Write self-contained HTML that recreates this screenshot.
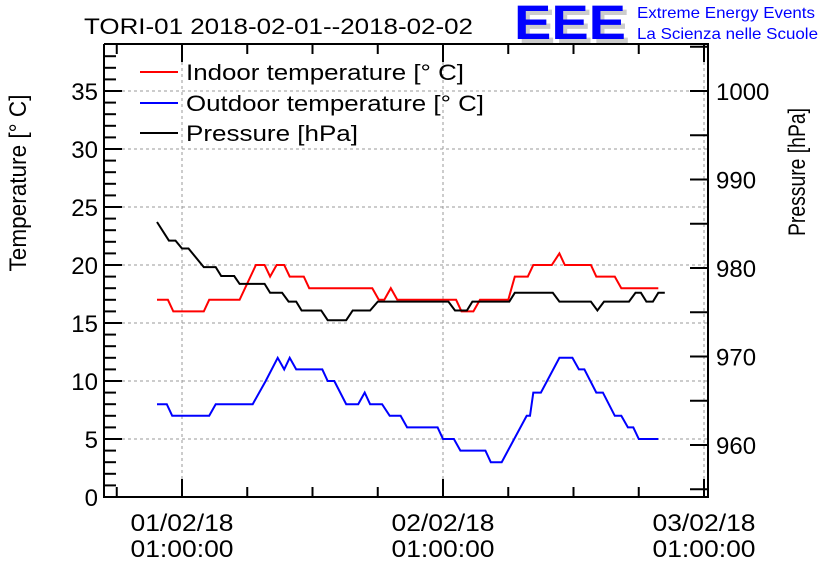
<!DOCTYPE html>
<html><head><meta charset="utf-8"><style>
html,body{margin:0;padding:0;background:#fff;}
svg{display:block;font-family:"Liberation Sans",sans-serif;}
</style></head><body>
<svg id="chart" width="836" height="572" viewBox="0 0 836 572">
<text x="84" y="34" font-size="22" textLength="389" lengthAdjust="spacingAndGlyphs">TORI-01 2018-02-01--2018-02-02</text>
<g>
<text x="518" y="43" font-size="48" font-weight="bold" fill="#ccc" textLength="112" lengthAdjust="spacingAndGlyphs">EEE</text>
<text x="514" y="39" font-size="48" font-weight="bold" fill="#00f" textLength="112" lengthAdjust="spacingAndGlyphs">EEE</text>
<text x="637" y="18" font-size="16" fill="#00f" textLength="178" lengthAdjust="spacingAndGlyphs">Extreme Energy Events</text>
<text x="637" y="39" font-size="16" fill="#00f" textLength="181" lengthAdjust="spacingAndGlyphs">La Scienza nelle Scuole</text>
</g>
<g id="grid"></g>
<g id="series"></g>
<g id="axes"></g>
<text transform="translate(26,183) rotate(-90)" text-anchor="middle" font-size="24" textLength="177" lengthAdjust="spacingAndGlyphs">Temperature [° C]</text>
<text transform="translate(805,172) rotate(-90)" text-anchor="middle" font-size="24" textLength="128" lengthAdjust="spacingAndGlyphs">Pressure [hPa]</text>
<g>
<g><line x1="140" y1="72" x2="178" y2="72" stroke="#f00" stroke-width="2"/><text x="186" y="80" font-size="22" textLength="278" lengthAdjust="spacingAndGlyphs">Indoor temperature [° C]</text></g>
<g><line x1="140" y1="103" x2="178" y2="103" stroke="#00f" stroke-width="2"/><text x="186" y="111" font-size="22" textLength="298" lengthAdjust="spacingAndGlyphs">Outdoor temperature [° C]</text></g>
<g><line x1="140" y1="133" x2="178" y2="133" stroke="#000" stroke-width="2"/><text x="186" y="141" font-size="22" textLength="172" lengthAdjust="spacingAndGlyphs">Pressure [hPa]</text></g>
</g>
</svg>
<script>
const indoorHours=[-2.3,-1.3,-0.8,2.0,2.5,5.3,6.8,7.6,8.1,8.7,9.4,9.9,11.2,11.7,17.5,18.1,18.6,19.2,19.8,25.2,25.7,26.8,27.4,30.0,30.6,31.8,32.3,34.0,34.7,35.2,37.6,38.1,39.8,40.4,43.8];
const indoorValues=[17,17,16,16,17,17,20,20,19,20,20,19,19,18,18,17,17,18,17,17,16,16,17,17,19,19,20,20,21,20,20,19,19,18,18];
const outdoorHours=[-2.3,-1.4,-0.9,2.5,3.1,6.5,7.7,8.8,9.4,9.9,10.5,12.9,13.4,14.0,15.1,16.2,16.8,17.3,18.4,19.1,20.1,20.7,23.5,24.0,25.0,25.6,27.9,28.4,29.4,31.7,32.0,32.3,33.0,34.7,35.9,36.5,37.0,38.1,38.7,39.8,40.4,41.0,41.5,42.0,43.8];
const outdoorValues=[8,8,7,7,8,8,10,12,11,12,11,11,10,10,8,8,9,8,8,7,7,6,6,5,5,4,4,3,3,7,7,9,9,12,12,11,11,9,9,7,7,6,6,5,5];
const pressureHours=[-2.3,-1.2,-0.6,0,0.6,2.0,3.1,3.6,4.8,5.3,7.6,8.1,9.2,9.8,10.5,11.0,12.8,13.4,15.1,15.7,17.3,18.0,24.5,25.1,26.2,26.7,30.1,30.6,34.1,34.7,37.6,38.2,38.8,41.1,41.7,42.2,42.7,43.3,43.8,44.4];
const pressureValues=[985.2,983.1,983.1,982.2,982.2,980.1,980.1,979.1,979.1,978.2,978.2,977.2,977.2,976.2,976.2,975.2,975.2,974.1,974.1,975.2,975.2,976.2,976.2,975.2,975.2,976.2,976.2,977.2,977.2,976.2,976.2,975.2,976.2,976.2,977.2,977.2,976.2,976.2,977.2,977.2];
const tempTicks=[0,5,10,15,20,25,30,35];
const pressTicks=[960,970,980,990,1000];
const dayTickLabels=[["01/02/18","01:00:00"],["02/02/18","01:00:00"],["03/02/18","01:00:00"]];

const L=104,R=708,T=44,B=497;
const x=h=>182+h*(261/24);
const yT=v=>497-v*(406/35);
const yP=p=>445-(p-960)*8.85;
const NS="http://www.w3.org/2000/svg";
function mk(tag,attrs,parent){const e=document.createElementNS(NS,tag);for(const k in attrs)e.setAttribute(k,attrs[k]);parent.appendChild(e);return e;}
const grid=document.getElementById('grid'),axes=document.getElementById('axes'),series=document.getElementById('series');

tempTicks.forEach(v=>{const g=mk('line',{x1:L,x2:R,y1:yT(v),y2:yT(v),stroke:'#999','stroke-dasharray':'3,3','stroke-width':1},grid);

});
dayTickLabels.forEach((lab,i)=>{const xx=x(i*24);
const g=mk('line',{x1:xx,x2:xx,y1:T,y2:B,stroke:'#999','stroke-dasharray':'3,3','stroke-width':1},grid);


const t1=mk('text',{x:xx,y:531,'text-anchor':'middle','font-size':24,textLength:103,lengthAdjust:'spacingAndGlyphs'},axes);t1.textContent=lab[0];


const t2=mk('text',{x:xx,y:557,'text-anchor':'middle','font-size':24,textLength:103,lengthAdjust:'spacingAndGlyphs'},axes);t2.textContent=lab[1];

});

function line(hours,vals,yf,color,name){const pts=hours.map((h,i)=>x(h).toFixed(1)+','+yf(vals[i]).toFixed(1)).join(' ');
const p=mk('polyline',{points:pts,fill:'none',stroke:color,'stroke-width':2},series);

}
line(indoorHours,indoorValues,yT,'#f00','indoor-temperature-line');
line(outdoorHours,outdoorValues,yT,'#00f','outdoor-temperature-line');
line(pressureHours,pressureValues,yP,'#000','pressure-line');

const frame=mk('path',{d:`M${L},${T}V${B}H${R}V${T}H${L}`,fill:'none',stroke:'#000','stroke-width':2},axes);


for(let v=0;v<=38;v++){const len=v%5===0?18:12;mk('line',{x1:L,x2:L+len,y1:yT(v),y2:yT(v),stroke:'#000','stroke-width':2},axes);}
tempTicks.forEach(v=>{const t=mk('text',{x:L-6,y:yT(v)+9,'text-anchor':'end','font-size':24},axes);t.textContent=v;

});
for(let p=955;p<=1005;p+=5){const len=18;mk('line',{x1:R-len,x2:R,y1:yP(p),y2:yP(p),stroke:'#000','stroke-width':2},axes);}
pressTicks.forEach(p=>{const t=mk('text',{x:R+8,y:yP(p)+9,'font-size':24},axes);t.textContent=p;

});
for(let h=-6;h<=48;h+=6){const xx=x(h);if(xx<L||xx>R)continue;const len=h%24===0?18:10;
mk('line',{x1:xx,x2:xx,y1:B,y2:B-len,stroke:'#000','stroke-width':2},axes);
mk('line',{x1:xx,x2:xx,y1:T,y2:T+len,stroke:'#000','stroke-width':2},axes);}
</script>
</body></html>
